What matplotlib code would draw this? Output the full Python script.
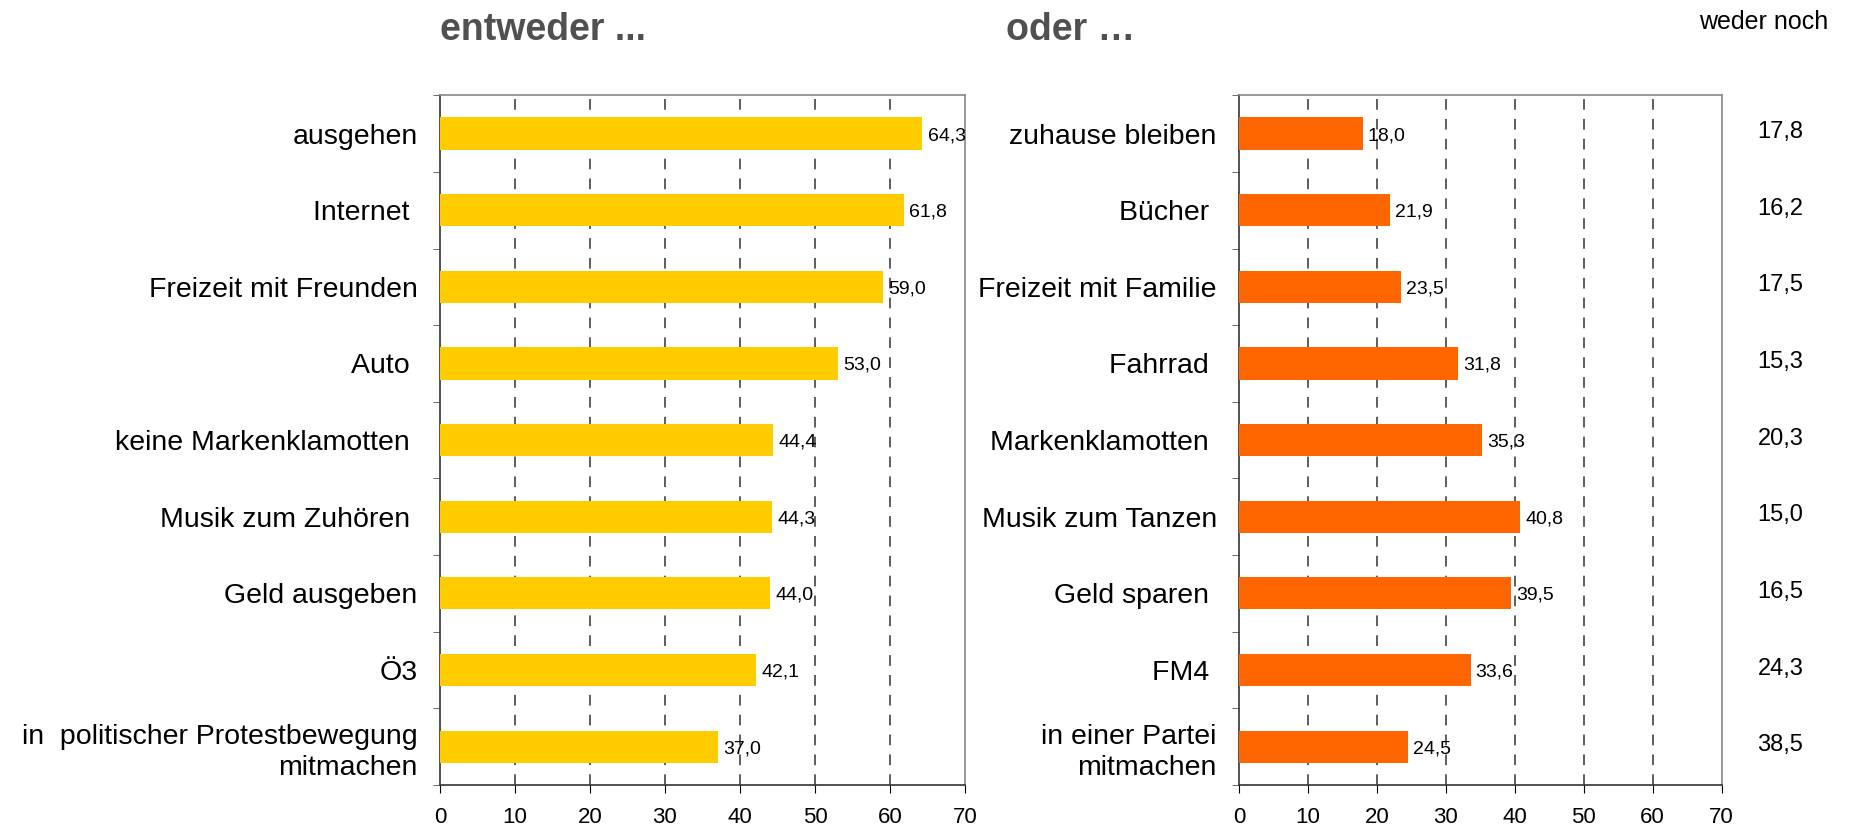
import numpy as np
import matplotlib
matplotlib.use("Agg")
import matplotlib.pyplot as plt
from matplotlib.ticker import FixedLocator

plt.rcParams['font.family'] = ['Liberation Sans', 'DejaVu Sans']

left_labels = ["ausgehen", "Internet ", "Freizeit mit Freunden", "Auto ",
               "keine Markenklamotten ", "Musik zum Zuhören ", "Geld ausgeben",
               "Ö3", "in  politischer Protestbewegung\nmitmachen"]
left_values = [64.3, 61.8, 59.0, 53.0, 44.4, 44.3, 44.0, 42.1, 37.0]

right_labels = ["zuhause bleiben", "Bücher ", "Freizeit mit Familie", "Fahrrad ",
                "Markenklamotten ", "Musik zum Tanzen", "Geld sparen ", "FM4 ",
                "in einer Partei\nmitmachen"]
right_values = [18.0, 21.9, 23.5, 31.8, 35.3, 40.8, 39.5, 33.6, 24.5]

neither_values = [17.8, 16.2, 17.5, 15.3, 20.3, 15.0, 16.5, 24.3, 38.5]

x_ticks = [0, 10, 20, 30, 40, 50, 60, 70]

def fmt(v):
    return ("%.1f" % v).replace(".", ",")

fig = plt.figure(figsize=(18.56, 8.31), dpi=100)
ax1 = fig.add_axes([0.237, 0.0554, 0.283, 0.830])
ax2 = fig.add_axes([0.6676, 0.0554, 0.260, 0.830])

y = np.arange(len(left_values))

def style(ax, labels, values, color):
    ax.barh(y, values, height=0.42, color=color, zorder=3)
    ax.set_xlim(0, 70)
    ax.set_ylim(len(values) - 0.5, -0.5)
    ax.set_xticks(x_ticks)
    ax.set_xticklabels([str(t) for t in x_ticks], fontsize=16)
    ax.set_yticks(y)
    ax.set_yticklabels(labels, fontsize=20.5, linespacing=1.25)
    ax.tick_params(axis='y', length=0, pad=16)
    ax.yaxis.set_minor_locator(FixedLocator(np.arange(-0.5, len(values), 1.0)))
    ax.tick_params(axis='y', which='minor', length=5, color='#555555')
    ax.tick_params(axis='x', length=6, pad=10, color='black')
    for gx in x_ticks[1:-1]:
        ax.axvline(gx, color='#333333', lw=1.1, ls=(0, (7, 6)), zorder=1)
    for s in ['top', 'right']:
        ax.spines[s].set_color('#888888')
        ax.spines[s].set_linewidth(1.2)
    for s in ['left', 'bottom']:
        ax.spines[s].set_color('#333333')
        ax.spines[s].set_linewidth(1.2)
    for yi, v in zip(y, values):
        ax.text(v + 0.7, yi, fmt(v), va='center_baseline', ha='left',
                fontsize=14, zorder=4)

style(ax1, left_labels, left_values, '#FFCC00')
style(ax2, right_labels, right_values, '#FF6600')

for yi, v in zip(y, neither_values):
    ax2.text(1.122, yi - 0.05, fmt(v), transform=ax2.get_yaxis_transform(),
             va='center_baseline', ha='center', fontsize=17)

fig.text(440 / 1856, 1 - 30 / 831, "entweder ...", fontsize=27, fontweight='bold',
         color='#505050', va='center', ha='left')
fig.text(1006 / 1856, 1 - 30 / 831, "oder …", fontsize=27, fontweight='bold',
         color='#505050', va='center', ha='left')
fig.text(1764 / 1856, 1 - 22 / 831, "weder noch", fontsize=18,
         va='center', ha='center')

fig.savefig("out.png", dpi=100)
